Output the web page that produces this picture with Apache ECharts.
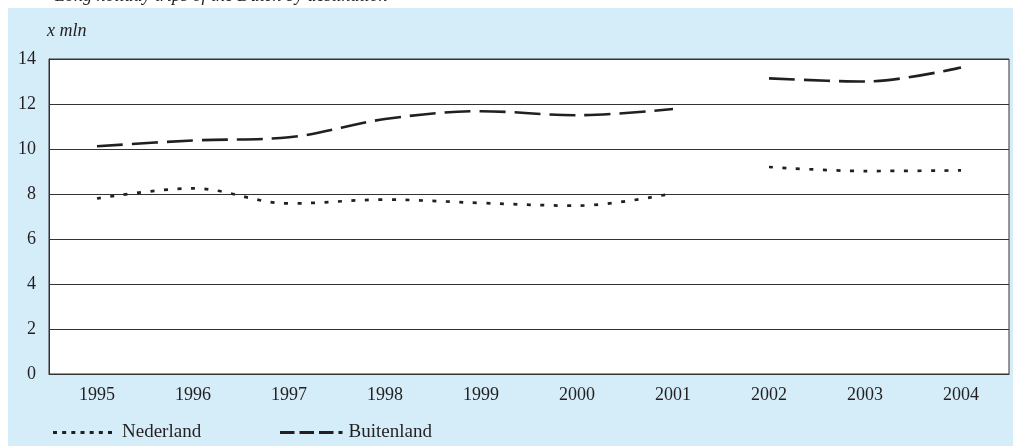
<!DOCTYPE html>
<html>
<head>
<meta charset="utf-8">
<script src="https://cdn.jsdelivr.net/npm/echarts@6/dist/echarts.min.js"></script>
<style>
html,body{margin:0;padding:0;background:#fff;}
#chart{width:1013px;height:446px;}
</style>
</head>
<body>
<div id="chart"></div>
<script>
const years = ['1995','1996','1997','1998','1999','2000','2001','2002','2003','2004'];
const nederland = [7.8, 8.25, 7.58, 7.75, 7.6, 7.48, 8.03, 9.2, 9.02, 9.05];
const buitenland = [10.12, 10.38, 10.52, 11.33, 11.68, 11.5, 11.78, 13.14, 13.0, 13.62];
const breakIndex = 7; // series interrupted between 2001 and 2002
const yTicks = {min: 0, max: 14, interval: 2};
const titleText = 'Long holiday trips of the Dutch by destination';
const unitText = 'x mln';

const FONT = 'Liberation Serif';
const INK = '#231f20';
const BLUE = '#d4edf9';

function part(arr, first) {
  return arr.map((v, i) => (first ? i < breakIndex : i >= breakIndex) ? v : null);
}

const nedStyle = {color: INK, width: 2.7, type: [4, 9.5], cap: 'butt'};
const buiStyle = {color: INK, width: 2.6, type: [26, 9], cap: 'butt'};

function mk(name, data, style) {
  return {
    name: name, type: 'line', data: data, smooth: 0.35, symbol: 'none',
    connectNulls: false, lineStyle: style, itemStyle: {color: INK},
    emphasis: {disabled: true}, silent: true, animation: false
  };
}

// legend icons: dotted and dashed strokes as filled paths
function rects(list) {
  return 'path://' + list.map(r => 'M' + r[0] + ' 0L' + (r[0] + r[1]) + ' 0L' + (r[0] + r[1]) + ' 3L' + r[0] + ' 3Z').join('');
}
const dotIcon = rects([[0,4],[9.17,4],[18.33,4],[27.5,4],[36.67,4],[45.83,4],[55,4]]);
const dashIcon = rects([[0,14.5],[19.5,14.5],[39,14.5],[58.5,4]]);

const chart = echarts.init(document.getElementById('chart'), null, {renderer: 'canvas'});
chart.setOption({
  animation: false,
  backgroundColor: '#fff',
  graphic: [
    {type: 'rect', z: -10, shape: {x: 8, y: 8, width: 1010, height: 440}, style: {fill: BLUE}, silent: true},
    {type: 'text', left: 55, top: -13, style: {text: titleText, font: 'italic 18px "' + FONT + '"', fill: INK}, silent: true},
    {type: 'text', left: 47, top: 22, style: {text: unitText, font: 'italic 18px "' + FONT + '"', fill: INK}, silent: true}
  ],
  grid: {left: 49, right: 4, top: 59, bottom: 72, show: true, backgroundColor: '#fff', borderColor: '#333', borderWidth: 1},
  legend: [
    {
      left: 53, top: 423, padding: 0, itemWidth: 59, itemHeight: 3, selectedMode: false,
      textStyle: {fontFamily: FONT, fontSize: 19, color: INK, padding: [0, 0, 0, 5]},
      data: [{name: 'Nederland', icon: dotIcon, itemStyle: {color: INK}}]
    },
    {
      left: 280, top: 423, padding: 0, itemWidth: 62.5, itemHeight: 3, selectedMode: false,
      textStyle: {fontFamily: FONT, fontSize: 19, color: INK, padding: [0, 0, 0, 1]},
      data: [{name: 'Buitenland', icon: dashIcon, itemStyle: {color: INK}}]
    }
  ],
  xAxis: {
    type: 'category', data: years, boundaryGap: true,
    axisLine: {lineStyle: {color: '#333', width: 1}},
    axisTick: {alignWithLabel: true, length: 7, lineStyle: {color: '#333'}},
    axisLabel: {fontFamily: FONT, fontSize: 18, color: INK, margin: 12},
    splitLine: {show: false}
  },
  yAxis: {
    type: 'value', min: yTicks.min, max: yTicks.max, interval: yTicks.interval,
    axisLine: {show: true, lineStyle: {color: '#333', width: 1}},
    axisTick: {show: false},
    axisLabel: {fontFamily: FONT, fontSize: 18, color: INK, margin: 13},
    splitLine: {lineStyle: {color: '#333', width: 1}}
  },
  series: [
    mk('Nederland', part(nederland, true), nedStyle),
    mk('Nederland', part(nederland, false), nedStyle),
    mk('Buitenland', part(buitenland, true), buiStyle),
    mk('Buitenland', part(buitenland, false), buiStyle)
  ]
});
</script>
</body>
</html>
